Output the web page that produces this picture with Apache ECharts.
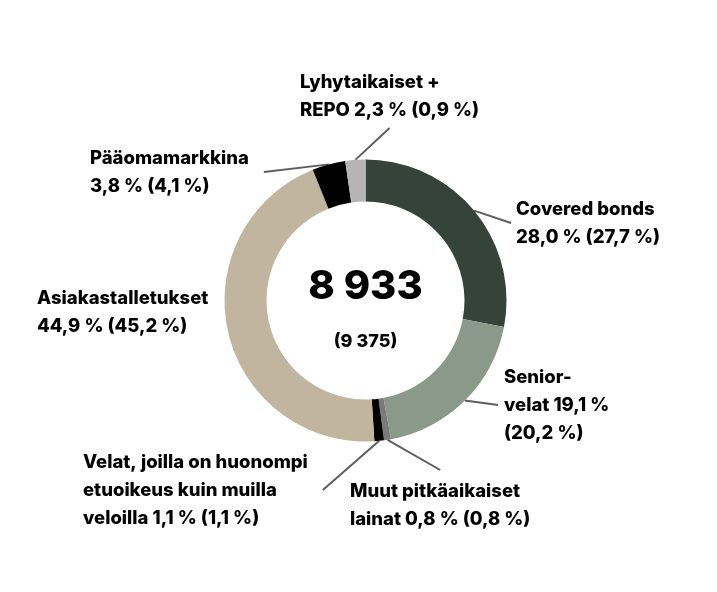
<!DOCTYPE html>
<html><head><meta charset="utf-8">
<script src="https://cdn.jsdelivr.net/npm/echarts@6/dist/echarts.min.js"></script>
<style>html,body{margin:0;padding:0;background:#fff}#c{width:717px;height:592px}</style>
</head><body><div id="c"></div>
<script>
// ---- data ----
const categories = ['Covered bonds', 'Senior-velat', 'Muut pitkäaikaiset lainat',
  'Velat, joilla on huonompi etuoikeus kuin muilla veloilla', 'Asiakastalletukset',
  'Pääomamarkkina', 'Lyhytaikaiset + REPO'];
const sharesNow = [28.0, 19.1, 0.8, 1.1, 44.9, 3.8, 2.3];
const sharesPrev = [27.7, 20.2, 0.8, 1.1, 45.2, 4.1, 0.9];
const labelNames = ['Covered bonds\n', 'Senior-\nvelat ', 'Muut pitkäaikaiset\nlainat ',
  'Velat, joilla on huonompi\netuoikeus kuin muilla\nveloilla ', 'Asiakastalletukset\n',
  'Pääomamarkkina\n', 'Lyhytaikaiset +\nREPO '];
const prevSep = [' ', '\n', ' ', ' ', ' ', ' ', ' '];
const totalNow = '8 933';
const totalPrev = '(9 375)';

// ---- styles / layout ----
const colors = ['#36433a', '#8b998a', '#7a7a7a', '#000000', '#c1b59f', '#000000', '#b5b5b5'];
const CX = 365.5, CY = 300.5, R_IN = 99, R_OUT = 141;
const labelAnchor = [[516, 223], [504, 405], [350, 505], [83, 490], [37, 312], [90, 172], [300, 96]];
const leaderSide = ['left', 'left', 'top', 'right', 'none', 'right', 'bottom'];
const leaderGap = [5, 6, 7, 15, 0, 15, 4];
const FONT = 'Inter, "Liberation Sans", Arial, sans-serif';

const fmt = v => v.toFixed(1).replace('.', ',') + ' %';
const total = sharesNow.reduce((a, b) => a + b, 0);
const cum = [];
sharesNow.reduce((acc, v, i) => { cum[i] = acc; return acc + v; }, 0);

const data = categories.map((c, i) => ({
  name: c,
  value: sharesNow[i],
  itemStyle: { color: colors[i] },
  labelLine: { show: leaderSide[i] !== 'none' }
}));

const chart = echarts.init(document.getElementById('c'), null, { renderer: 'canvas' });
chart.setOption({
  animation: false,
  backgroundColor: '#ffffff',
  graphic: [
    { type: 'text', x: CX, y: 287, style: { text: totalNow, fill: '#000', font: '800 40px ' + FONT, textAlign: 'center', textVerticalAlign: 'middle' } },
    { type: 'text', x: CX, y: 342, style: { text: totalPrev, fill: '#000', font: '800 18px ' + FONT, textAlign: 'center', textVerticalAlign: 'middle' } }
  ],
  series: [{
    type: 'pie',
    center: [CX, CY],
    radius: [R_IN, R_OUT],
    startAngle: 90,
    clockwise: true,
    avoidLabelOverlap: false,
    emphasis: { disabled: true },
    data: data,
    label: {
      show: true,
      position: 'outside',
      formatter: p => labelNames[p.dataIndex] + fmt(sharesNow[p.dataIndex]) + prevSep[p.dataIndex] + '(' + fmt(sharesPrev[p.dataIndex]) + ')',
      color: '#000',
      fontFamily: FONT,
      fontSize: 18.5,
      fontWeight: 800,
      lineHeight: 28
    },
    labelLine: { show: true, length: 10, length2: 10, lineStyle: { color: '#5e5e5e', width: 2 } },
    labelLayout: function (p) {
      const i = p.dataIndex;
      const w = p.labelRect.width, h = p.labelRect.height;
      const [x, y] = labelAnchor[i];
      const a = 2 * Math.PI * (cum[i] + sharesNow[i] / 2) / total;
      const start = [CX + R_OUT * Math.sin(a), CY - R_OUT * Math.cos(a)];
      const g = leaderGap[i];
      let end;
      switch (leaderSide[i]) {
        case 'left': end = [x - g, y]; break;
        case 'right': end = [x + w + g, y]; break;
        case 'top': end = [x + w / 2, y - h / 2 - g]; break;
        case 'bottom': end = [x + w / 2, y + h / 2 + g]; break;
        default: end = start;
      }
      return { x: x, y: y, align: 'left', verticalAlign: 'middle', labelLinePoints: [start, end, end] };
    }
  }]
});
</script>
</body></html>
